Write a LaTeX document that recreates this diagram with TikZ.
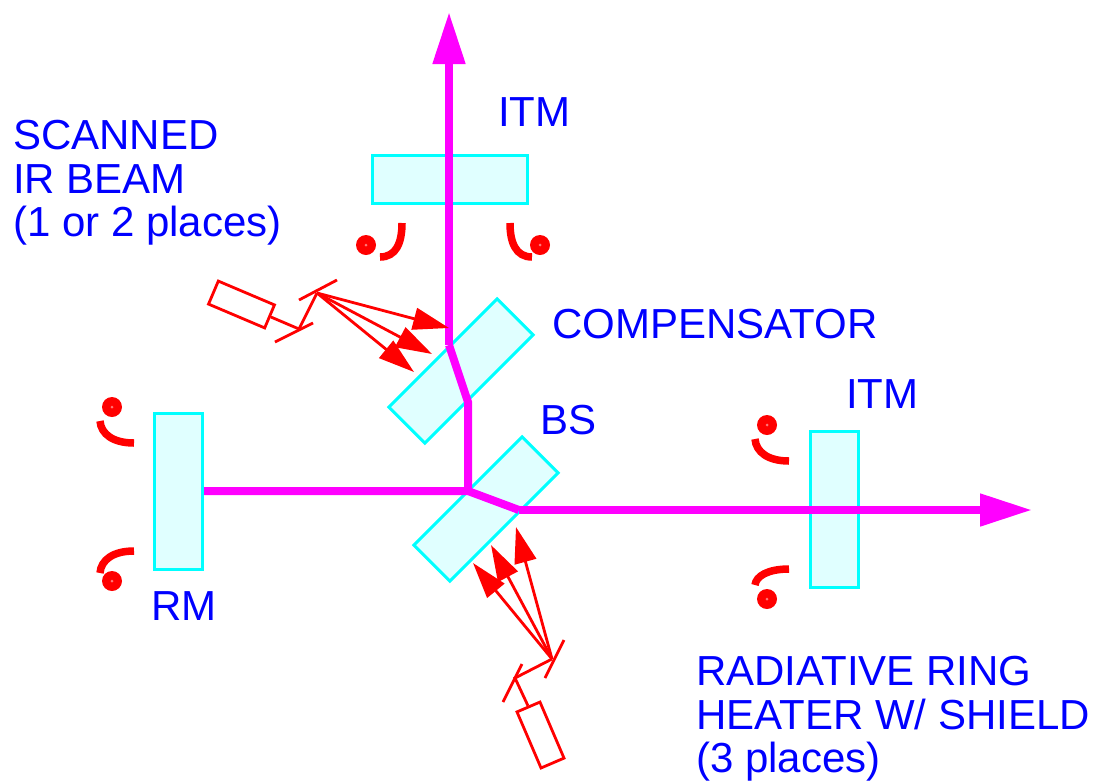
\documentclass[tikz,border=0pt]{standalone}
\usepackage{fontspec}
\setmainfont{Liberation Sans}
\usetikzlibrary{arrows.meta}
\definecolor{opt}{RGB}{224,255,255}
\definecolor{optline}{RGB}{0,255,255}
\definecolor{lab}{RGB}{0,0,255}
\definecolor{beamc}{RGB}{255,0,255}
\definecolor{irc}{RGB}{255,0,0}
\definecolor{dotc}{RGB}{255,120,120}
\tikzset{
  optic/.style={draw=optline,fill=opt,line width=3pt,inner sep=0pt},
  beam/.style={draw=beamc,line width=8pt,line join=miter},
  beamend/.style={beam,-{Triangle[length=52pt,width=31pt,fill=beamc]}},
  irline/.style={draw=irc,line width=2.8pt},
  irarrow/.style={irline,-{Triangle[length=36pt,width=22pt,fill=irc]}},
  laser/.style={draw=irc,fill=white,line width=2.8pt,minimum width=61pt,minimum height=25pt,inner sep=0pt},
  heater/.style={draw=irc,line width=7.5pt},
  hdot/.style={circle,fill=irc,minimum size=20pt,inner sep=0pt},
  hcore/.style={circle,fill=dotc,minimum size=3pt,inner sep=0pt},
  lbl/.style={text=lab,font=\fontsize{42}{43.5}\selectfont,inner sep=0pt,align=left}
}
\begin{document}
\begin{tikzpicture}[x=1pt,y=-1pt]
\useasboundingbox (0,0) rectangle (1099,780);
% optics
\node[optic,minimum width=155pt,minimum height=48pt] (itmtop) at (449.5,179) {};
\node[optic,minimum width=48pt,minimum height=156pt] (rm) at (178.5,491) {};
\node[optic,minimum width=48pt,minimum height=156pt] (itmright) at (834,509) {};
\node[optic,minimum width=153pt,minimum height=51pt,rotate=45] (comp) at (461,371) {};
\node[optic,minimum width=153pt,minimum height=51pt,rotate=45] (bs) at (486,509) {};
% beam
\coordinate (bsa) at (468,491);
\coordinate (bsb) at (519,510);
\coordinate (cpa) at (468,402);
\coordinate (cpb) at (449,345);
\coordinate (topend) at (449,12);
\coordinate (rightend) at (1032,510);
\draw[beam] (rm.east |- bsa) -- (bsa) -- (bsb);
\draw[beamend] (bsb) -- (rightend);
\draw[beam] (bsa) -- (cpa) -- (cpb);
\draw[beamend] (cpb) -- (topend);
% heaters
\foreach \n/\x/\y in {a/366/245,b/540/245,c/112/407,d/112/581,e/767/425,f/767/599}{
  \node[hdot] (dot\n) at (\x,\y) {};
  \node[hcore] at (\x,\y) {};
}
\draw[heater] (402,223) .. controls (402,243) and (396,257) .. (380,257);
\draw[heater] (510,223) .. controls (510,243) and (516,257) .. (532,257);
\draw[heater] (100,421) .. controls (101,434) and (113,443) .. (134,443);
\draw[heater] (100,573) .. controls (101,560) and (113,551) .. (134,551);
\draw[heater] (755,439) .. controls (756,452) and (768,461) .. (789,461);
\draw[heater] (755,585) .. controls (756,576) and (768,569) .. (789,569);
% top IR steering
\node[laser,rotate=-23] (lasertop) at (241.5,304.5) {};
\coordinate (ma) at (299,329);
\coordinate (mb) at (317,293);
\draw[irline] (275,342) -- (313,323);
\draw[irline] (299,300) -- (337,280);
\draw[irline] (lasertop.east) -- (ma) -- (mb);
\coordinate (ta) at (449,328);
\coordinate (tb) at (432,354);
\coordinate (tc) at (414,372);
\draw[irarrow] (mb) -- (tc);
\draw[irarrow] (mb) -- (tb);
\draw[irarrow] (mb) -- (ta);
% bottom IR steering
\node[laser,rotate=-66.8] (laserbot) at (540.5,735) {};
\coordinate (mc) at (515,678);
\coordinate (md) at (552,659);
\draw[irline] (522,664) -- (503,702);
\draw[irline] (564,640) -- (545,678);
\draw[irline] (laserbot.west) -- (mc) -- (md);
\coordinate (ba) at (516,527);
\coordinate (bb) at (491,545);
\coordinate (bc) at (473,563);
\draw[irarrow] (md) -- (bc);
\draw[irarrow] (md) -- (bb);
\draw[irarrow] (md) -- (ba);
% labels
\node[lbl,anchor=base west] (l1) at (498,126) {ITM};
\node[lbl,anchor=base west] (l2) at (846,408) {ITM};
\node[lbl,anchor=base west] (l3) at (151,620) {RM};
\node[lbl,anchor=base west] (l4) at (540,434) {BS};
\node[lbl,anchor=base west] (l5) at (552,338) {COMPENSATOR};
\node[lbl,anchor=north west] (l6) at (13,120) {SCANNED\\IR BEAM\\(1 or 2 places)};
\node[lbl,anchor=north west] (l7) at (696,656) {RADIATIVE RING\\HEATER W/ SHIELD\\(3 places)};
\end{tikzpicture}
\end{document}
